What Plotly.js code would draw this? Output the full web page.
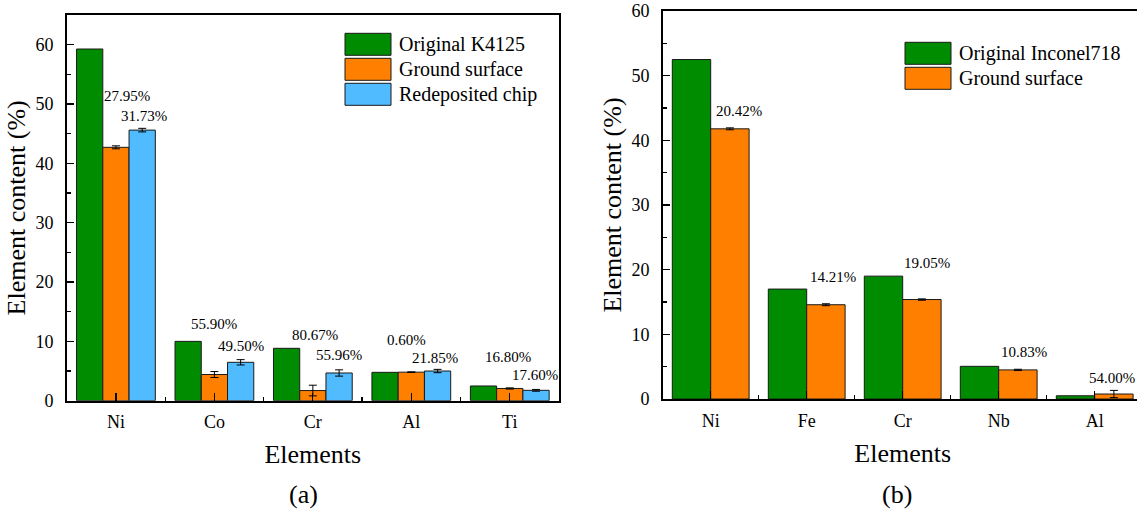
<!DOCTYPE html>
<html><head><meta charset="utf-8">
<script src="https://cdn.plot.ly/plotly-3.0.1.min.js"></script>
<style>html,body{margin:0;padding:0;overflow:hidden;background:#fff}#chart{width:1145px;height:512px}</style>
</head><body><div id="chart"></div><script>
// ---- data (a) ----
const elementsA = ['Ni', 'Co', 'Cr', 'Al', 'Ti'];
const originalK4125 = [59.27, 10.0, 8.83, 4.78, 2.48];
const groundSurfaceA = [42.7, 4.41, 1.71, 4.81, 2.06];
const groundSurfaceAErr = [0.25, 0.5, 0.9, 0.05, 0.1];
const redepositedChip = [45.6, 6.47, 4.67, 5.0, 1.75];
const redepositedChipErr = [0.3, 0.45, 0.53, 0.28, 0.15];
const changeGroundA = ['27.95%', '55.90%', '80.67%', '0.60%', '16.80%'];
const changeChipA = ['31.73%', '49.50%', '55.96%', '21.85%', '17.60%'];

// ---- data (b) ----
const elementsB = ['Ni', 'Fe', 'Cr', 'Nb', 'Al'];
const originalInconel718 = [52.5, 17.0, 19.0, 5.05, 0.5];
const groundSurfaceB = [41.78, 14.58, 15.38, 4.5, 0.77];
const groundSurfaceBErr = [0.15, 0.15, 0.1, 0.1, 0.56];
const changeGroundB = ['20.42%', '14.21%', '19.05%', '10.83%', '54.00%'];

// ---- label placement (layout, not data) ----
const posGroundA = [[0.11, 51.4], [1.0, 12.95], [2.02, 11.1], [2.95, 10.3], [3.98, 7.4]];
const posChipA = [[0.28, 48.0], [1.27, 9.2], [2.27, 7.67], [3.24, 7.2], [4.26, 4.3]];
const posGroundB = [[0.29, 44.5], [1.27, 18.9], [2.25, 21.0], [3.26, 7.28], [4.18, 3.18]];

const GREEN = '#008c00', ORANGE = '#ff8000', BLUE = '#50bbff';
const FONT = 'Liberation Serif';
const W = 1145, H = 512;
const fx = p => p / W, fy = p => 1 - p / H;
const idxA = elementsA.map((_, i) => i);
const idxB = elementsB.map((_, i) => i);
const outline = {color: '#1a1a1a', width: 1};
const errStyle = arr => ({type: 'data', array: arr, visible: true, color: '#000', thickness: 1, width: 4});

const traces = [
  {type: 'bar', name: 'Original K4125', x: idxA, y: originalK4125, xaxis: 'x', yaxis: 'y',
   marker: {color: GREEN, line: outline}},
  {type: 'bar', name: 'Ground surface', x: idxA, y: groundSurfaceA, xaxis: 'x', yaxis: 'y',
   marker: {color: ORANGE, line: outline}, error_y: errStyle(groundSurfaceAErr)},
  {type: 'bar', name: 'Redeposited chip', x: idxA, y: redepositedChip, xaxis: 'x', yaxis: 'y',
   marker: {color: BLUE, line: outline}, error_y: errStyle(redepositedChipErr)},
  {type: 'bar', name: 'Original Inconel718', x: idxB, y: originalInconel718, xaxis: 'x2', yaxis: 'y2',
   marker: {color: GREEN, line: outline}},
  {type: 'bar', name: 'Ground surface', x: idxB, y: groundSurfaceB, xaxis: 'x2', yaxis: 'y2',
   marker: {color: ORANGE, line: outline}, error_y: errStyle(groundSurfaceBErr)}
];

function xAxis(domain, cats, anchor) {
  return {
    domain: domain, anchor: anchor, range: [-0.5, cats.length - 0.5],
    tickmode: 'array', tickvals: cats.map((_, i) => i), ticktext: cats,
    ticks: 'inside', ticklen: 8, tickwidth: 1.2, tickcolor: '#000',
    minor: {tickmode: 'array', tickvals: cats.slice(1).map((_, i) => i + 0.5), ticks: 'inside', ticklen: 4, tickwidth: 1.2, tickcolor: '#000'},
    showline: true, linewidth: 2, linecolor: '#000', mirror: true,
    showgrid: false, zeroline: false, fixedrange: true,
    tickfont: {family: FONT, size: 18, color: '#000'}, ticklabelstandoff: 4,
    title: {text: 'Elements', font: {family: FONT, size: 26, color: '#000'}, standoff: 14}
  };
}
function yAxis(domain, range, anchor) {
  return {
    domain: domain, anchor: anchor, range: range, tickmode: 'linear', tick0: 0, dtick: 10,
    ticks: 'inside', ticklen: 7, tickwidth: 1.2, tickcolor: '#000',
    minor: {dtick: 5, ticks: 'inside', ticklen: 4, tickwidth: 1.2, tickcolor: '#000'},
    showline: true, linewidth: 1.5, linecolor: '#000', mirror: true,
    showgrid: false, zeroline: false, fixedrange: true,
    tickfont: {family: FONT, size: 18, color: '#000'}, ticklabelstandoff: 8,
    title: {text: 'Element content (%)', font: {family: FONT, size: 26, color: '#000'}, standoff: 2}
  };
}

const annotations = [];
const labelFont = {family: FONT, size: 15, color: '#000'};
changeGroundA.forEach((t, i) => annotations.push({xref: 'x', yref: 'y', x: posGroundA[i][0], y: posGroundA[i][1], text: t, showarrow: false, xanchor: 'center', yanchor: 'middle', font: labelFont}));
changeChipA.forEach((t, i) => annotations.push({xref: 'x', yref: 'y', x: posChipA[i][0], y: posChipA[i][1], text: t, showarrow: false, xanchor: 'center', yanchor: 'middle', font: labelFont}));
changeGroundB.forEach((t, i) => annotations.push({xref: 'x2', yref: 'y2', x: posGroundB[i][0], y: posGroundB[i][1], text: t, showarrow: false, xanchor: 'center', yanchor: 'middle', font: labelFont}));

// custom legends
const shapes = [];
function legend(items, x0, y0) {
  items.forEach((it, i) => {
    const top = y0 + i * 25;
    shapes.push({type: 'rect', xref: 'paper', yref: 'paper', x0: fx(x0), x1: fx(x0 + 46), y0: fy(top + 22), y1: fy(top),
      fillcolor: it[1], line: {color: '#1a1a1a', width: 1}});
    annotations.push({xref: 'paper', yref: 'paper', x: fx(x0 + 52), y: fy(top + 11), xanchor: 'left', yanchor: 'middle',
      text: it[0], showarrow: false, font: {family: FONT, size: 20, color: '#000'}});
  });
}
legend([[traces[0].name, GREEN], [traces[1].name, ORANGE], [traces[2].name, BLUE]], 345, 33.3);
legend([[traces[3].name, GREEN], [traces[4].name, ORANGE]], 905, 42.3);

annotations.push({xref: 'paper', yref: 'paper', x: fx(303), y: fy(494), xanchor: 'center', yanchor: 'middle', text: '(a)', showarrow: false, font: {family: FONT, size: 26, color: '#000'}});
annotations.push({xref: 'paper', yref: 'paper', x: fx(897), y: fy(494), xanchor: 'center', yanchor: 'middle', text: '(b)', showarrow: false, font: {family: FONT, size: 26, color: '#000'}});

const layout = {
  width: W, height: H, margin: {l: 0, r: 0, t: 0, b: 0},
  paper_bgcolor: '#fff', plot_bgcolor: '#fff', showlegend: false,
  barmode: 'group', bargap: 0.2, bargroupgap: 0,
  font: {family: FONT, color: '#000'},
  xaxis: xAxis([fx(66.7), fx(559)], elementsA, 'y'),
  yaxis: yAxis([fy(400.7), fy(15)], [0, 65], 'x'),
  xaxis2: xAxis([fx(662.7), fx(1142.7)], elementsB, 'y2'),
  yaxis2: yAxis([fy(399), fy(11)], [0, 60], 'x2'),
  annotations: annotations, shapes: shapes
};
Plotly.newPlot('chart', traces, layout, {displayModeBar: false, staticPlot: true});
</script></body></html>
